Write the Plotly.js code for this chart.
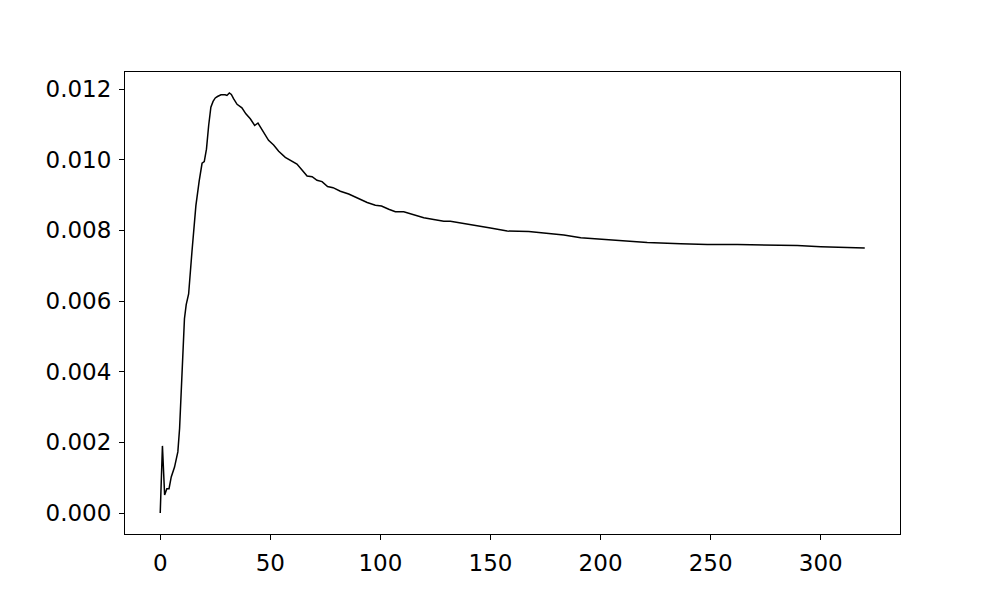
<!DOCTYPE html>
<html>
<head>
<meta charset="utf-8">
<script src="https://cdn.plot.ly/plotly-3.0.1.min.js"></script>
<style>
  body { margin: 0; background: #fff; }
  #chart { width: 1000px; height: 600px; }
</style>
</head>
<body>
<div id="chart"></div>
<script>
// values
var steps = [0, 1, 2, 3, 4, 5, 6.5, 8, 8.8, 9.5, 10.3, 11, 11.8, 12.9, 14.4, 16.2, 17.7, 19, 20, 21,
  22, 23, 24, 25, 26, 27.6, 29.5, 30.3, 31.4, 32.3, 33.3, 34.9, 37.1, 38.9, 40.9, 42.9, 44.4, 45.5, 47, 49.2,
  51.5, 53.8, 56.8, 60.6, 62.1, 64.4, 66.7, 69, 71.2, 73.5, 76, 78.5, 81.8, 85.6, 90.2, 94, 97.7, 100.5,
  103.8, 106.8, 110.6, 115.2, 119.7, 124.2, 128.8, 131.8, 137.9, 144, 150, 157.6, 160.6, 163.6, 167.4,
  174.2, 183.3, 191, 200, 209, 221.2, 236.4, 248.5, 262.1, 275.8, 289.4, 300, 303.8, 320];

var values = [0, 0.0019, 0.00051, 0.00069, 0.00069, 0.00102, 0.0013, 0.00173, 0.0024, 0.0035, 0.0049,
  0.0055, 0.0059, 0.0062, 0.00739, 0.0087, 0.0094, 0.0099, 0.00995, 0.0103,
  0.01097, 0.01149, 0.01165, 0.01175, 0.01179, 0.01184, 0.01184, 0.01182, 0.01189, 0.01185,
  0.01173, 0.01157, 0.01147, 0.0113, 0.01116, 0.01097, 0.01104, 0.01092, 0.01075, 0.01055,
  0.01042, 0.01024, 0.01007, 0.00994, 0.00988, 0.00971, 0.00954, 0.00952, 0.00942, 0.00938,
  0.00924, 0.00921, 0.00911, 0.00903, 0.0089, 0.00879, 0.00871, 0.00869,
  0.0086, 0.00853, 0.00853, 0.00845, 0.00836, 0.00831, 0.00826, 0.00826, 0.0082, 0.00812,
  0.00807, 0.00798, 0.00798, 0.00796, 0.00797,
  0.00793, 0.00787, 0.00779, 0.00775, 0.0077, 0.00766, 0.00762, 0.0076, 0.0076, 0.00759, 0.00757,
  0.00754, 0.00753, 0.0075];

var xTicks = [0, 50, 100, 150, 200, 250, 300];
var yTicks = [0, 0.002, 0.004, 0.006, 0.008, 0.010, 0.012];

var trace = {
  x: steps,
  y: values,
  type: 'scatter',
  mode: 'lines',
  line: {color: '#000000', width: 1.5},
  hoverinfo: 'skip'
};

var axisStyle = {
  showgrid: false,
  zeroline: false,
  showline: true,
  mirror: true,
  linecolor: '#000000',
  linewidth: 1,
  ticks: 'outside',
  ticklen: 5,
  tickwidth: 1,
  tickcolor: '#000000',
  ticklabelstandoff: 3,
  tickfont: {family: 'DejaVu Sans', size: 23, color: '#000000'}
};

var layout = {
  width: 1000,
  height: 600,
  paper_bgcolor: '#ffffff',
  plot_bgcolor: '#ffffff',
  showlegend: false,
  margin: {l: 125, r: 100, t: 72, b: 66, pad: 0},
  xaxis: Object.assign({}, axisStyle, {
    range: [-16, 336],
    tickvals: xTicks,
    ticktext: xTicks.map(function(v) { return String(v); })
  }),
  yaxis: Object.assign({}, axisStyle, {
    range: [-0.000594, 0.012484],
    tickvals: yTicks,
    ticktext: yTicks.map(function(v) { return v.toFixed(3); })
  })
};

Plotly.newPlot('chart', [trace], layout, {displayModeBar: false, staticPlot: true});
</script>
</body>
</html>
